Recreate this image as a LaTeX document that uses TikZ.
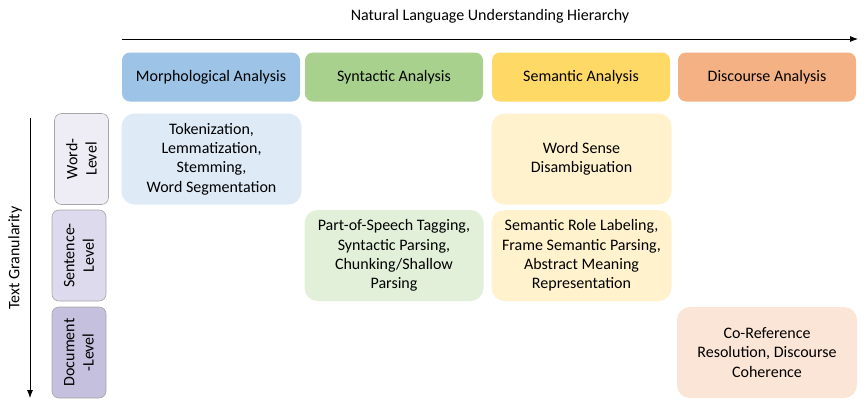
\documentclass[tikz,border=0pt]{standalone}
\usepackage{fontspec}
\setmainfont{Carlito}
\usetikzlibrary{arrows.meta}
\definecolor{hmorph}{HTML}{9DC3E6}
\definecolor{hsyn}{HTML}{A9D18E}
\definecolor{hsem}{HTML}{FFD966}
\definecolor{hdisc}{HTML}{F4B183}
\definecolor{cmorph}{HTML}{DEEBF7}
\definecolor{csyn}{HTML}{E2F0D9}
\definecolor{csem}{HTML}{FFF2CC}
\definecolor{cdisc}{HTML}{FBE5D6}
\definecolor{lword}{HTML}{EEEDF5}
\definecolor{lsent}{HTML}{DCDAEC}
\definecolor{ldoc}{HTML}{C5C0DE}
\definecolor{lborder}{HTML}{A6A6A6}
\begin{document}
\begin{tikzpicture}[x=1pt,y=-1pt,
  every node/.style={font=\fontsize{16}{19.3}\selectfont, inner sep=0pt},
  hdr/.style={rounded corners=8pt, minimum width=178pt, minimum height=49pt, align=center},
  cell/.style={rounded corners=13pt, minimum width=180pt, minimum height=91pt, align=center},
  lvl/.style={rounded corners=7pt, draw=lborder, line width=0.6pt, minimum width=91pt, minimum height=54pt, align=center, rotate=90},
  axis/.style={-{Latex[length=8pt,width=6pt]}, line width=0.8pt}
]
\useasboundingbox (0,0) rectangle (867,408);
% axes
\coordinate (hs) at (122,39);
\coordinate (he) at (858,39);
\draw[axis] (hs) -- (he);
\node (htitle) at (490,16) {Natural Language Understanding Hierarchy};
\coordinate (vs) at (30,118);
\coordinate (ve) at (30,398);
\draw[axis] (vs) -- (ve);
\node[rotate=90] (vtitle) at (15,258) {Text Granularity};
% headers
\node[hdr, fill=hmorph] (hm) at (211,77) {Morphological Analysis};
\node[hdr, fill=hsyn] (hy) at (394,77) {Syntactic Analysis};
\node[hdr, fill=hsem] (hse) at (581,77) {Semantic Analysis};
\node[hdr, fill=hdisc] (hd) at (767,77) {Discourse Analysis};
% level labels
\node[lvl, fill=lword] (lw) at (81.5,159) {Word-\\Level};
\node[lvl, fill=lsent] (ls) at (79,255.5) {Sentence-\\Level};
\node[lvl, fill=ldoc] (ld) at (79,352.5) {Document\\-Level};
% cells
\node[cell, fill=cmorph] (cmw) at (211.5,159) {Tokenization,\\Lemmatization,\\Stemming,\\Word Segmentation};
\node[cell, fill=csem] (csw) at (581.5,159) {Word Sense\\Disambiguation};
\node[cell, fill=csyn, minimum width=179pt] (cys) at (394,255.5) {Part-of-Speech Tagging,\\Syntactic Parsing,\\Chunking/Shallow\\Parsing};
\node[cell, fill=csem] (css) at (581.5,255.5) {Semantic Role Labeling,\\Frame Semantic Parsing,\\Abstract Meaning\\Representation};
\node[cell, fill=cdisc] (cdd) at (767,352.5) {Co-Reference\\Resolution, Discourse\\Coherence};
\end{tikzpicture}
\end{document}
